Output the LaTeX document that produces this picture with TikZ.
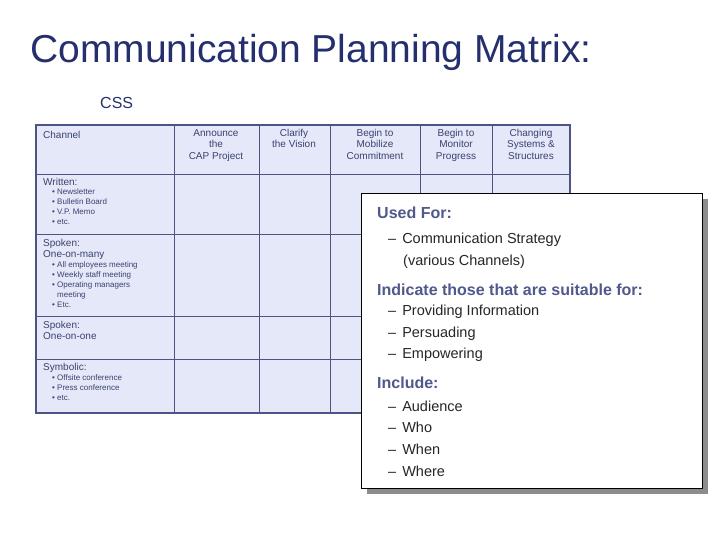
\documentclass[tikz,border=0pt]{standalone}
\usepackage{fontspec}
\setmainfont{Liberation Sans}
\definecolor{navy}{HTML}{252F6E}
\definecolor{grid}{HTML}{4A5584}
\definecolor{cellfill}{HTML}{E4E8F8}
\definecolor{txt}{HTML}{3A4270}
\begin{document}
\begin{tikzpicture}[x=1pt,y=-1pt,
  hdr/.style={anchor=north,align=center,font=\fontsize{10}{11.5}\selectfont,text=txt,inner sep=0},
  lbl/.style={anchor=north west,align=left,font=\fontsize{10}{11.5}\selectfont,text=txt,inner sep=0},
  sub/.style={anchor=north west,align=left,font=\fontsize{8}{10}\selectfont,text=txt,inner sep=0},
  bhead/.style={anchor=west,font=\bfseries\fontsize{16}{18}\selectfont,text=navy!80,inner sep=0},
  bitem/.style={anchor=west,align=left,font=\fontsize{14.5}{21}\selectfont,text=black!85,inner sep=0}]
\path[use as bounding box] (0,0) rectangle (720,540);
\node[anchor=west,text=navy,font=\fontsize{39}{42}\selectfont,inner sep=0] (title) at (30,52) {Communication Planning Matrix:};
\node[anchor=west,text=navy,font=\fontsize{16}{18}\selectfont,inner sep=0] (css) at (100,103) {CSS};
% table
\fill[cellfill] (36,125) rectangle (570,413);
\foreach \x in {174,259,330,420,492} \draw[grid,line width=0.8pt] (\x,125) -- (\x,413);
\foreach \y in {174,234,316,359} \draw[grid,line width=0.8pt] (36,\y) -- (570,\y);
\draw[grid,line width=1.6pt] (36,125) rectangle (570,413);
\node[lbl] (ch) at (43,131) {Channel};
\node[hdr] (h1) at (216,129) {Announce\\the\\CAP Project};
\node[hdr] (h2) at (294,129) {Clarify\\the Vision};
\node[hdr] (h3) at (375,129) {Begin to\\Mobilize\\Commitment};
\node[hdr] (h4) at (456,129) {Begin to\\Monitor\\Progress};
\node[hdr] (h5) at (531,129) {Changing\\Systems \&\\Structures};
\node[lbl] (r1) at (43,178) {Written:};
\node[sub] (r1s) at (52,189) {\textbullet\ Newsletter\\\textbullet\ Bulletin Board\\\textbullet\ V.P. Memo\\\textbullet\ etc.};
\node[lbl] (r2) at (43,239) {Spoken:\\One-on-many};
\node[sub] (r2s) at (52,262) {\textbullet\ All employees meeting\\\textbullet\ Weekly staff meeting\\\textbullet\ Operating managers\\\phantom{\textbullet\ }meeting\\\textbullet\ Etc.};
\node[lbl] (r3) at (43,321) {Spoken:\\One-on-one};
\node[lbl] (r4) at (43,363) {Symbolic:};
\node[sub] (r4s) at (52,375) {\textbullet\ Offsite conference\\\textbullet\ Press conference\\\textbullet\ etc.};
% box
\fill[black!45] (367,199) rectangle (708,494);
\draw[fill=white,line width=0.8pt] (361,193) rectangle (702,488);
\node[bhead] (u) at (377,213) {Used For:};
\node[bitem] (u1) at (388,240) {–\hspace{6pt}Communication Strategy};
\node[bitem] (u1b) at (403,262) {(various Channels)};
\node[bhead] (i) at (377,290) {Indicate those that are suitable for:};
\node[bitem] (i1) at (388,312) {–\hspace{6pt}Providing Information};
\node[bitem] (i2) at (388,334) {–\hspace{6pt}Persuading};
\node[bitem] (i3) at (388,355) {–\hspace{6pt}Empowering};
\node[bhead] (n) at (377,383) {Include:};
\node[bitem] (n1) at (388,406) {–\hspace{6pt}Audience};
\node[bitem] (n2) at (388,427) {–\hspace{6pt}Who};
\node[bitem] (n3) at (388,449) {–\hspace{6pt}When};
\node[bitem] (n4) at (388,471) {–\hspace{6pt}Where};
\end{tikzpicture}
\end{document}
